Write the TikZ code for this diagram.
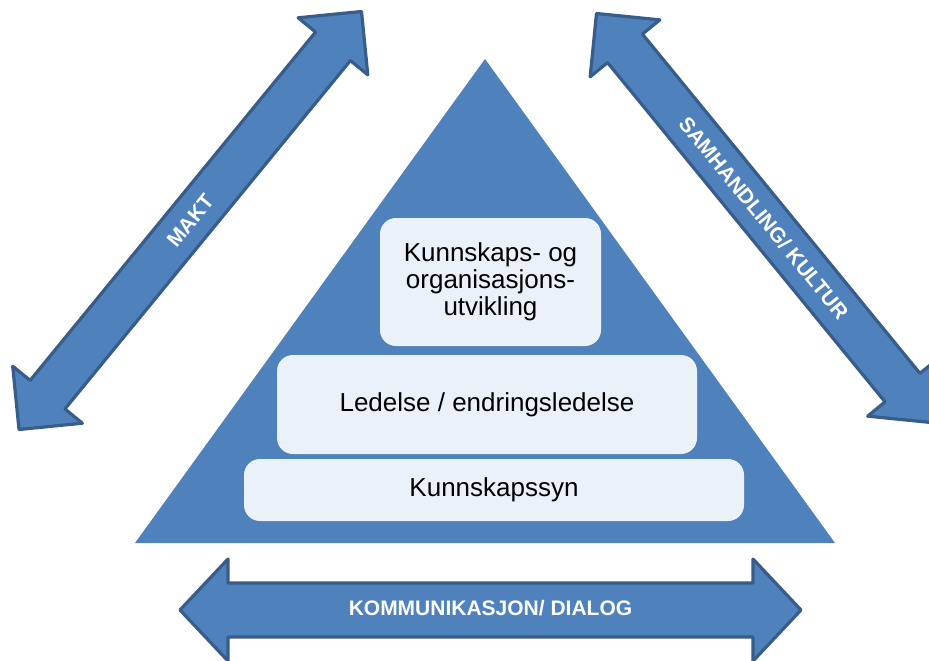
\documentclass[tikz,border=0pt]{standalone}
\usepackage{fontspec}
\setmainfont{Liberation Sans}
\usetikzlibrary{calc}
\definecolor{fillblue}{HTML}{4F81BD}
\definecolor{lineblue}{HTML}{385D8A}
\definecolor{boxfill}{HTML}{EBF1F8}
\tikzset{
  arrowshape/.style={fill=fillblue, draw=lineblue, line width=3.2pt, line join=round},
  arrowtext/.style={text=white, font=\fontsize{21}{24}\selectfont\bfseries, inner sep=0pt},
  layerbox/.style={fill=boxfill, draw=none, rounded corners=16pt, font=\fontsize{26}{27}\selectfont, align=center, inner sep=0pt},
}
% double arrow between tips #1 and #2; head length #3, head half-width #4, body half-width #5
\newcommand{\dblarrow}[5]{%
  \coordinate (#1h) at ($(#1)!#3!(#2)$);
  \coordinate (#2h) at ($(#2)!#3!(#1)$);
  \filldraw[arrowshape] (#1)
    -- ($(#1h)!#4!90:(#2)$) -- ($(#1h)!#5!90:(#2)$)
    -- ($(#2h)!#5!-90:(#1)$) -- ($(#2h)!#4!-90:(#1)$)
    -- (#2)
    -- ($(#2h)!#4!90:(#1)$) -- ($(#2h)!#5!90:(#1)$)
    -- ($(#1h)!#5!-90:(#2)$) -- ($(#1h)!#4!-90:(#2)$)
    -- cycle;
}
\begin{document}
\begin{tikzpicture}[x=1pt,y=-1pt]
\useasboundingbox (0,0) rectangle (929,661);
\clip (0,0) rectangle (929,661);
\fill[white] (0,0) rectangle (929,661);

% pyramid
\fill[fillblue] (485,59) -- (835,543) -- (135,543) -- cycle;

% layers
\node[layerbox, minimum width=221pt, minimum height=128pt] (topbox) at (490.5,282) {Kunnskaps- og\\organisasjons-\\utvikling};
\node[layerbox, minimum width=420pt, minimum height=99pt] (midbox) at (487,404.5) {Ledelse / endringsledelse};
\node[layerbox, minimum width=500pt, minimum height=62pt] (botbox) at (494,490) {Kunnskapssyn};

% arrows
\coordinate (mA) at (19,429.5);
\coordinate (mB) at (361.5,11.5);
\coordinate (sA) at (596.5,13.5);
\coordinate (sB) at (931,422.5);
\coordinate (kA) at (180,610);
\coordinate (kB) at (801,610);

\dblarrow{mA}{mB}{45pt}{45pt}{22.5pt}
\dblarrow{sA}{sB}{45pt}{45pt}{22.5pt}
\dblarrow{kA}{kB}{48pt}{51pt}{27pt}

\path (mA) -- node[arrowtext, sloped] (makt) {MAKT} (mB);
\path (sA) -- node[arrowtext, sloped] (samh) {SAMHANDLING/ KULTUR} (sB);
\path (kA) -- node[arrowtext, yshift=2pt] (komm) {KOMMUNIKASJON/ DIALOG} (kB);
\end{tikzpicture}
\end{document}
